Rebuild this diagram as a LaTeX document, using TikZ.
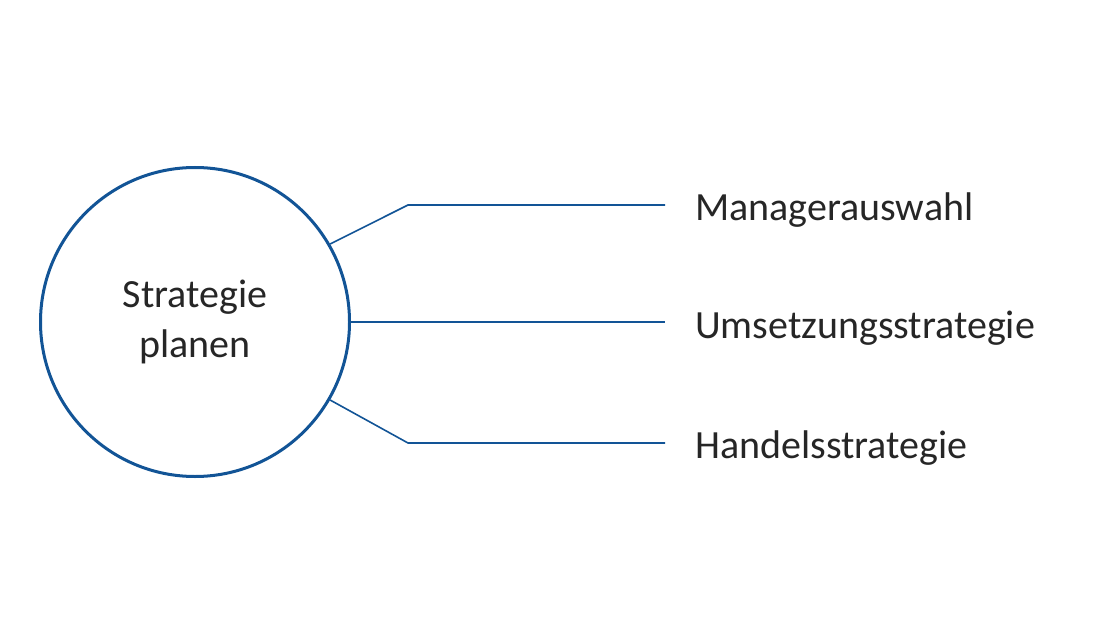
\documentclass[tikz,border=0pt]{standalone}
\usepackage{fontspec}
\setmainfont{Carlito}
\definecolor{dblue}{RGB}{18,84,150}
\begin{document}
\begin{tikzpicture}[x=1pt,y=-1pt,
  conn/.style={draw=dblue,line width=1.6pt},
  lbl/.style={anchor=base west,inner sep=0pt,font=\fontsize{40}{50}\selectfont,text=black!85}]
\useasboundingbox (0,0) rectangle (1110,644);
\node[circle,draw=dblue,line width=3pt,minimum size=309pt,inner sep=0pt,align=center,
  font=\fontsize{40}{50}\selectfont,text=black!85] (c) at (195,322) {Strategie\\planen};
\coordinate (k1) at (408,205); \coordinate (e1) at (665,205);
\coordinate (e2) at (665,322);
\coordinate (k3) at (408,443); \coordinate (e3) at (665,443);
\draw[conn] (c.30) -- (k1) -- (e1);
\draw[conn] (c.east) -- (e2);
\draw[conn] (c.-30) -- (k3) -- (e3);
\node[lbl] (t1) at (695,221) {Managerauswahl};
\node[lbl] (t2) at (695,338) {Umsetzungsstrategie};
\node[lbl] (t3) at (695,458) {Handelsstrategie};
\end{tikzpicture}
\end{document}
